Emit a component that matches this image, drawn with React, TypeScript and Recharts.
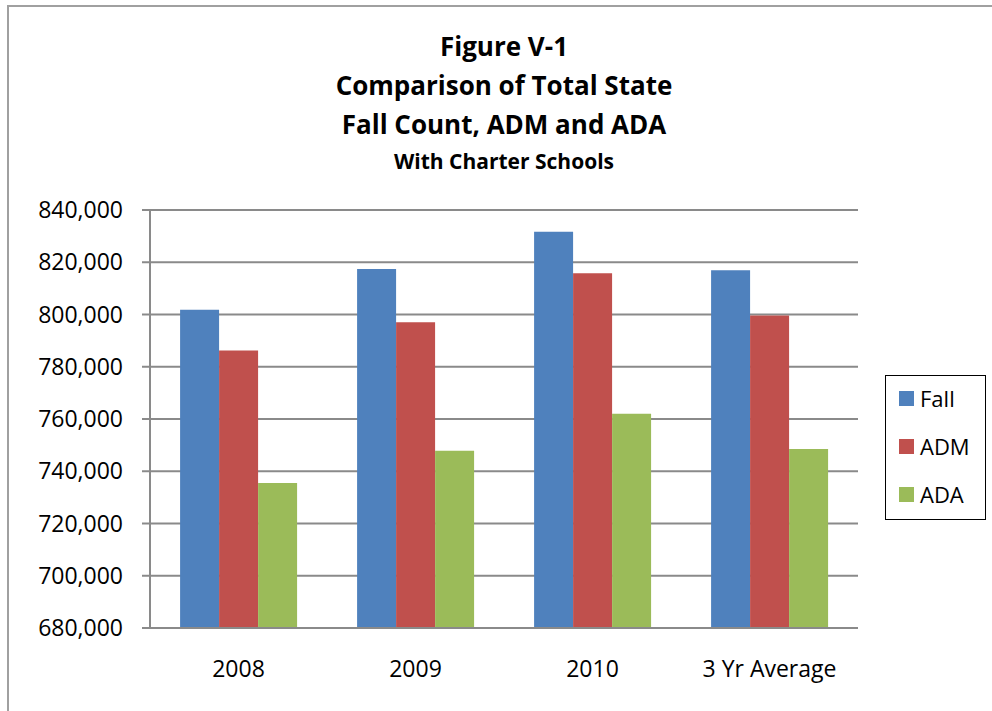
import React from "react";
import { BarChart, Bar, XAxis, YAxis, CartesianGrid } from "recharts";

const categories = ["2008", "2009", "2010", "3 Yr Average"];
const fallValues = [801800, 817400, 831700, 816900];
const admValues = [786200, 797000, 815800, 799600];
const adaValues = [735500, 747800, 762000, 748500];
const yTicks = [680000, 700000, 720000, 740000, 760000, 780000, 800000, 820000, 840000];
const titleLines = ["Figure V-1", "Comparison of Total State", "Fall Count, ADM and ADA"];
const subtitle = "With Charter Schools";

const series = [
  { key: "Fall", color: "#4F81BD" },
  { key: "ADM", color: "#C0504D" },
  { key: "ADA", color: "#9BBB59" },
];

const data = categories.map((c, i) => ({
  name: c,
  Fall: fallValues[i],
  ADM: admValues[i],
  ADA: adaValues[i],
}));

const FONT = "'Open Sans', 'Noto Sans', sans-serif";
const GRAY = "#8a8a8a";

const fmt = (v: number) => v.toLocaleString("en-US");

const LegendBox = () => (
  <div
    style={{
      position: "absolute",
      left: 885,
      top: 375,
      border: "1.5px solid #000",
      width: 101,
      height: 145,
      boxSizing: "border-box",
      fontFamily: FONT,
      fontSize: 22,
      background: "#fff",
    }}
  >
    {series.map((s, i) => (
      <div
        key={s.key}
        style={{ position: "absolute", left: 13, top: 7 + i * 48, height: 30, display: "flex", alignItems: "center" }}
      >
        <span style={{ width: 15, height: 15, background: s.color, display: "inline-block", marginRight: 6 }} />
        <span style={{ color: "#000", lineHeight: "30px" }}>{s.key}</span>
      </div>
    ))}
  </div>
);

export default function App() {
  return (
    <div style={{ position: "absolute", left: 0, top: 0, width: 992, height: 711, overflow: "hidden", background: "#fff" }}>
      <div
        style={{
          position: "absolute",
          left: 7,
          top: 5,
          width: 992,
          height: 720,
          borderLeft: "2px solid #a0a0a0",
          borderTop: "2px solid #a0a0a0",
        }}
      />
      <div style={{ position: "absolute", left: 0, top: 27, width: 1008, textAlign: "center", fontFamily: FONT, fontWeight: 700, color: "#000" }}>
        {titleLines.map((t) => (
          <div key={t} style={{ fontSize: 26, lineHeight: "39px" }}>{t}</div>
        ))}
        <div style={{ fontSize: 21, lineHeight: "34px" }}>{subtitle}</div>
      </div>
      <div style={{ position: "absolute", left: 0, top: 0 }}>
        <BarChart
          width={992}
          height={711}
          data={data}
          margin={{ top: 210, right: 134, bottom: 43, left: 0 }}
          barCategoryGap="17%"
          barGap={0}
        >
          <CartesianGrid vertical={false} stroke={GRAY} strokeWidth={2} />
          <XAxis
            dataKey="name"
            height={40}
            tickLine={false}
            tickSize={0}
            tickMargin={33}
            axisLine={{ stroke: GRAY, strokeWidth: 2 }}
            tick={{ fill: "#000", fontSize: 23, fontFamily: FONT }}
          />
          <YAxis
            width={150}
            domain={[680000, 840000]}
            ticks={yTicks}
            allowDataOverflow
            tickFormatter={fmt}
            tickSize={8}
            tickMargin={19}
            axisLine={{ stroke: GRAY, strokeWidth: 2 }}
            tickLine={{ stroke: GRAY, strokeWidth: 2 }}
            tick={{ fill: "#000", fontSize: 23, fontFamily: FONT }}
          />
          {series.map((s) => (
            <Bar key={s.key} dataKey={s.key} fill={s.color} isAnimationActive={false} />
          ))}
        </BarChart>
      </div>
      <LegendBox />
    </div>
  );
}
